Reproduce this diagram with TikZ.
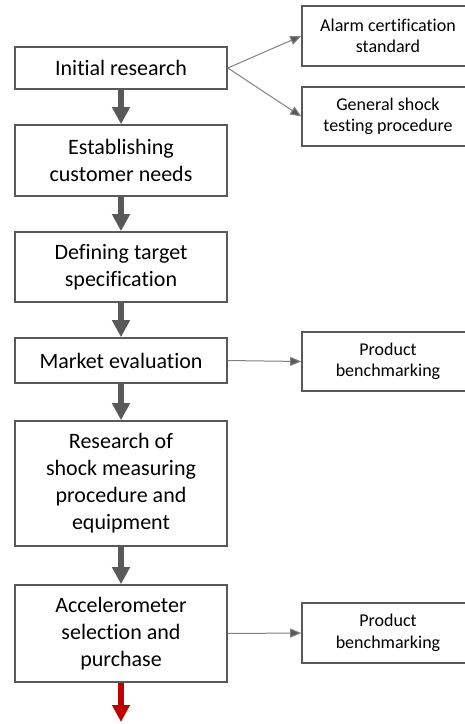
\documentclass[tikz,border=0pt]{standalone}
\usepackage{fontspec}
\setmainfont{Carlito}[Ligatures=NoCommon, Contextuals=NoAlternate]
\usetikzlibrary{arrows.meta}
\definecolor{boxGray}{HTML}{595959}
\definecolor{lineGray}{HTML}{808080}
\definecolor{stopRed}{HTML}{C00000}

\begin{document}
\begin{tikzpicture}[x=1pt, y=-1pt,
	stepBox/.style={rectangle, draw=boxGray, line width=1.6pt, fill=white, minimum width=212pt, align=center, font=\fontsize{22}{27}\selectfont},
	sideBox/.style={rectangle, draw=boxGray, line width=1.6pt, fill=white, minimum width=172pt, align=center, font=\fontsize{18}{21.5}\selectfont},
	bigArrow/.style={draw=boxGray, line width=6pt, -{Triangle[length=17pt, width=17pt]}},
	thinArrow/.style={draw=lineGray, line width=1pt, -{Triangle[length=11pt, width=9pt, fill=boxGray]}}]
	\useasboundingbox (0,0) rectangle (465,724);
	\clip (0,0) rectangle (465,724);
	% main column
	\node[stepBox, minimum height=42pt](initRes) at (121,68){Initial research};
	\node[stepBox, minimum height=71pt](custNeeds) at (121,160.5){Establishing\\customer needs};
	\node[stepBox, minimum height=70pt](targetSpec) at (121,267){Defining target\\specification};
	\node[stepBox, minimum height=45pt](marketEval) at (121,360.5){Market evaluation};
	\node[stepBox, minimum height=125pt](shockRes) at (121,483.5){Research of\\shock measuring\\procedure and\\equipment};
	\node[stepBox, minimum height=97pt](accelSel) at (121,633.5){Accelerometer\\selection and\\purchase};
	\coordinate(nextStep) at (121,722);
	% side boxes
	\node[sideBox, minimum height=60pt](alarmStd) at (388,36){Alarm certification\\standard};
	\node[sideBox, minimum height=59pt](shockProc) at (388,116.5){General shock\\testing procedure};
	\node[sideBox, minimum height=59pt](benchOne) at (388,361.5){Product\\benchmarking};
	\node[sideBox, minimum height=60pt](benchTwo) at (388,633){Product\\benchmarking};
	% arrows
	\draw[bigArrow](initRes) -- (custNeeds);
	\draw[bigArrow](custNeeds) -- (targetSpec);
	\draw[bigArrow](targetSpec) -- (marketEval);
	\draw[bigArrow](marketEval) -- (shockRes);
	\draw[bigArrow](shockRes) -- (accelSel);
	\draw[bigArrow, draw=stopRed](accelSel) -- (nextStep);
	\draw[thinArrow](initRes.east) -- (alarmStd.west);
	\draw[thinArrow](initRes.east) -- (shockProc.west);
	\draw[thinArrow](marketEval.east) -- (benchOne.west);
	\draw[thinArrow](accelSel.east) -- (benchTwo.west);
\end{tikzpicture}
\end{document}
